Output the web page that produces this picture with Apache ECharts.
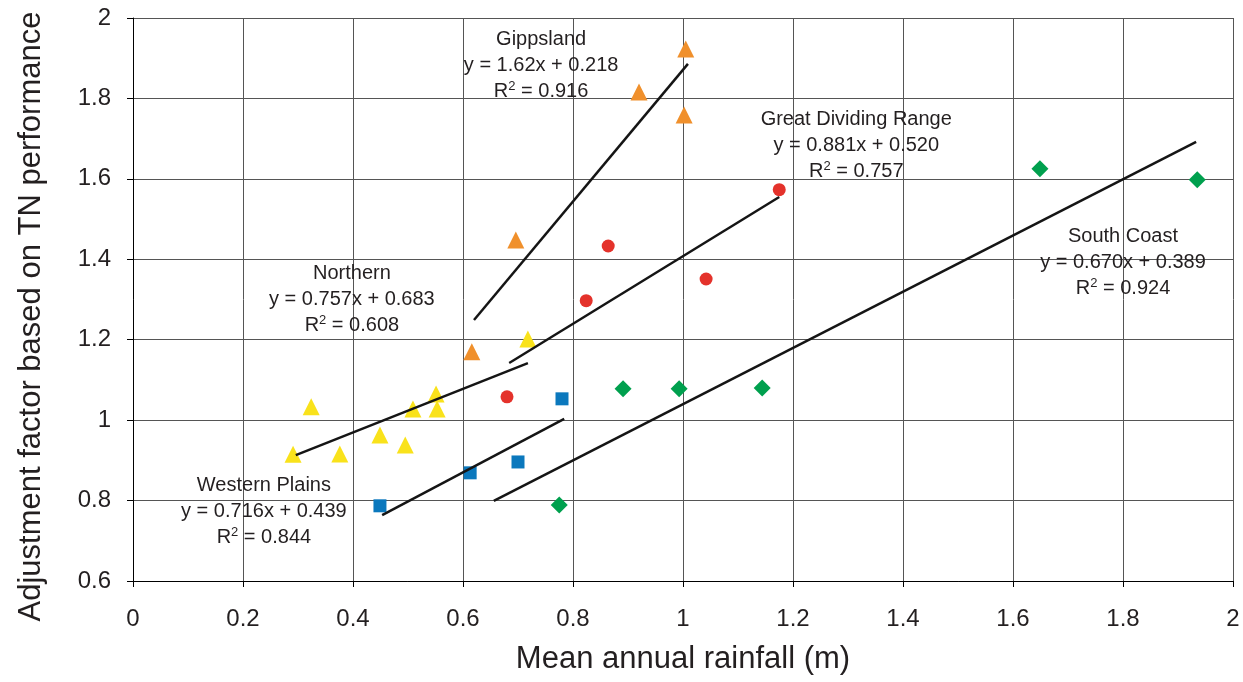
<!DOCTYPE html>
<html>
<head>
<meta charset="utf-8">
<script src="https://cdn.jsdelivr.net/npm/echarts@6/dist/echarts.min.js"></script>
<style>
html,body{margin:0;padding:0;background:#fff;}
#chart{width:1243px;height:682px;}
</style>
</head>
<body>
<div id="chart"></div>
<script>
// ---- Data ----
var northernX = [0.291, 0.324, 0.376, 0.449, 0.495, 0.509, 0.551, 0.553, 0.718];
var northernY = [0.915, 1.033, 0.916, 0.963, 0.938, 1.028, 1.065, 1.028, 1.202];
var gippslandX = [0.616, 0.696, 0.920, 1.005, 1.002];
var gippslandY = [1.170, 1.448, 1.816, 1.923, 1.759];
var gdrX = [0.680, 0.824, 0.864, 1.042, 1.175];
var gdrY = [1.058, 1.297, 1.433, 1.351, 1.573];
var westernX = [0.449, 0.613, 0.700, 0.780];
var westernY = [0.787, 0.869, 0.896, 1.053];
var southX = [0.775, 0.891, 0.993, 1.144, 1.649, 1.935];
var southY = [0.789, 1.078, 1.078, 1.080, 1.625, 1.598];

// trend line end points [x0, y0, x1, y1]
var northernTrend = [0.296, 0.913, 0.718, 1.142];
var gippslandTrend = [0.620, 1.249, 1.009, 1.886];
var gdrTrend = [0.684, 1.142, 1.175, 1.555];
var westernTrend = [0.453, 0.764, 0.784, 1.003];
var southTrend = [0.656, 0.799, 1.933, 1.692];

// annotation texts and anchors (centre of the equation line)
var regionNames = ['Gippsland', 'Great Dividing Range', 'Northern', 'Western Plains', 'South Coast'];
var equations = ['y = 1.62x + 0.218', 'y = 0.881x + 0.520', 'y = 0.757x + 0.683', 'y = 0.716x + 0.439', 'y = 0.670x + 0.389'];
var r2Values = ['0.916', '0.757', '0.608', '0.844', '0.924'];
var annotX = [0.742, 1.315, 0.398, 0.238, 1.800];
var annotY = [1.881, 1.682, 1.300, 0.772, 1.392];

var xTicks = [0, 0.2, 0.4, 0.6, 0.8, 1, 1.2, 1.4, 1.6, 1.8, 2];
var yTicks = [0.6, 0.8, 1, 1.2, 1.4, 1.6, 1.8, 2];

var xTitle = 'Mean annual rainfall (m)';
var yTitle = 'Adjustment factor based on TN performance';

// ---- Build ----
function pairs(xs, ys) { return xs.map(function (x, i) { return [x, ys[i]]; }); }
function trend(t) { return [[t[0], t[1]], [t[2], t[3]]]; }

var FONT = 'Liberation Sans, Arial, Helvetica, sans-serif';
var TXT = '#231f20';

function scatter(name, xs, ys, symbol, size, color) {
  return {
    name: name, type: 'scatter', data: pairs(xs, ys),
    symbol: symbol, symbolSize: size,
    itemStyle: { color: color, opacity: 1 }, z: 3, silent: true
  };
}
function line(t) {
  return {
    type: 'line', data: trend(t), symbol: 'none', silent: true,
    lineStyle: { color: '#151515', width: 2.5 }, z: 5
  };
}

var annotData = annotX.map(function (x, i) {
  return { value: [x, annotY[i]], idx: i };
});

var chart = echarts.init(document.getElementById('chart'), null, { renderer: 'canvas' });
chart.setOption({
  animation: false,
  backgroundColor: '#fff',
  grid: { left: 133, right: 10, top: 18, bottom: 101, containLabel: false, outerBoundsMode: 'none' },
  xAxis: {
    type: 'value', min: 0, max: 2, interval: 0.2,
    name: xTitle, nameLocation: 'middle', nameGap: 63,
    nameTextStyle: { fontFamily: FONT, fontSize: 31, color: TXT },
    axisLine: { show: true, onZero: false, lineStyle: { color: '#000', width: 1 } },
    axisTick: { show: true, length: 6, lineStyle: { color: '#000' } },
    axisLabel: {
      fontFamily: FONT, fontSize: 24, color: TXT, margin: 26,
      formatter: function (v) { return String(parseFloat(v.toFixed(1))); }
    },
    splitLine: { show: true, lineStyle: { color: '#555', width: 1 } }
  },
  yAxis: {
    type: 'value', min: 0.6, max: 2, interval: 0.2,
    name: yTitle, nameLocation: 'middle', nameGap: 86,
    nameTextStyle: { fontFamily: FONT, fontSize: 31, color: TXT, padding: [0, 34, 0, 0] },
    axisLine: { show: true, onZero: false, lineStyle: { color: '#000', width: 1 } },
    axisTick: { show: true, length: 6, lineStyle: { color: '#000' } },
    axisLabel: {
      fontFamily: FONT, fontSize: 24, color: TXT, margin: 22,
      formatter: function (v) { return String(parseFloat(v.toFixed(1))); }
    },
    splitLine: { show: true, lineStyle: { color: '#555', width: 1 } }
  },
  series: [
    scatter('Northern', northernX, northernY, 'triangle', 17, '#f9e21b'),
    scatter('Gippsland', gippslandX, gippslandY, 'triangle', 17, '#f0902c'),
    scatter('Great Dividing Range', gdrX, gdrY, 'circle', 13, '#e4322b'),
    scatter('Western Plains', westernX, westernY, 'rect', 13, '#0b78bd'),
    scatter('South Coast', southX, southY, 'diamond', 17, '#00a04e'),
    line(northernTrend), line(gippslandTrend), line(gdrTrend), line(westernTrend), line(southTrend),
    {
      type: 'scatter', data: annotData, symbolSize: 1, silent: true, z: 10,
      itemStyle: { color: 'rgba(0,0,0,0)', opacity: 1 },
      label: {
        show: true, position: 'inside', color: TXT, textBorderWidth: 0, opacity: 1,
        fontFamily: FONT, fontSize: 20, lineHeight: 26,
        formatter: function (p) {
          var i = p.data.idx;
          return '{t|' + regionNames[i] + '}\n{t|' + equations[i] + '}\n{t|R}{s|2}{t| = ' + r2Values[i] + '}';
        },
        rich: {
          t: { fontFamily: FONT, fontSize: 20, color: TXT, lineHeight: 26, textBorderWidth: 0 },
          s: { fontFamily: FONT, fontSize: 13, color: TXT, lineHeight: 26, padding: [0, 0, 10, 0], textBorderWidth: 0 }
        }
      }
    }
  ]
});
</script>
</body>
</html>
